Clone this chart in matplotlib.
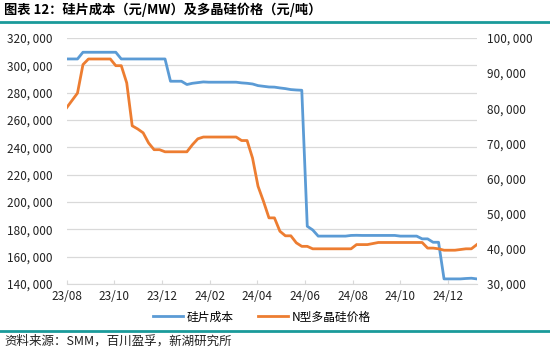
import numpy as np
import pandas as pd
import matplotlib
matplotlib.use("Agg")
import matplotlib.pyplot as plt
import matplotlib.dates as mdates
from matplotlib.ticker import FuncFormatter, MultipleLocator
from matplotlib.lines import Line2D

plt.rcParams['font.family'] = ['Noto Sans CJK SC', 'DejaVu Sans']

# ---- data (weekly) ----
start_date = "2023-08-01"
n_weeks = 76

# 硅片成本 (元/MW), left axis
wafer_cost = [
    304600, 304600, 304600, 309500, 309500, 309500, 309500, 309500, 309500, 309500,
    304600, 304600, 304600, 304600, 304600, 304600, 304600, 304600, 304600, 288300,
    288300, 288300, 285900, 286800, 287300, 287800, 287600, 287600, 287600, 287600,
    287600, 287600, 287100, 286800, 286300, 285100, 284600, 284100, 284000, 283400,
    282900, 282200, 281900, 281700, 182200, 179500, 175000, 175000, 175000, 175000,
    175000, 175000, 175500, 175600, 175500, 175500, 175500, 175500, 175500, 175500,
    175500, 175000, 175000, 175000, 175000, 173000, 173000, 170500, 170500, 143700,
    143700, 143700, 143700, 144000, 144200, 143700,
]

# N型多晶硅价格 (元/吨), right axis
poly_price = [
    80100, 82200, 84300, 92400, 94000, 94000, 94000, 94000, 94000, 92100,
    92100, 87200, 75000, 74100, 73000, 70100, 68200, 68200, 67600, 67600,
    67600, 67600, 67600, 69600, 71300, 71800, 71800, 71800, 71800, 71800,
    71800, 71800, 70800, 70800, 65800, 57800, 53500, 48800, 48800, 45000,
    43700, 43700, 41700, 40700, 40700, 40000, 40000, 40000, 40000, 40000,
    40000, 40000, 40000, 41200, 41200, 41200, 41500, 41800, 41800, 41800,
    41800, 41800, 41800, 41800, 41800, 41800, 40200, 40200, 40000, 39600,
    39600, 39600, 39800, 40000, 40000, 41200,
]

label_wafer = "硅片成本"
label_poly = "N型多晶硅价格"
title = "图表 12：硅片成本（元/MW）及多晶硅价格（元/吨）"
source = "资料来源：SMM，百川盈孚，新湖研究所"

dates = pd.date_range(start_date, periods=n_weeks, freq="7D")

# ---- figure ----
fig = plt.figure(figsize=(5.5, 3.51), dpi=100)
ax = fig.add_axes([0.121, 0.191, 0.746, 0.701])
ax2 = ax.twinx()

blue = "#5B9BD5"
orange = "#ED7D31"
teal = "#1A9A9A"
grid_c = "#D9D9D9"

ax.plot(dates, wafer_cost, color=blue, lw=2.0, zorder=3)
ax2.plot(dates, poly_price, color=orange, lw=2.0, zorder=3)

ax.set_ylim(140000, 320000)
ax.yaxis.set_major_locator(MultipleLocator(20000))
ax2.set_ylim(30000, 100000)
ax2.yaxis.set_major_locator(MultipleLocator(10000))

fmt = FuncFormatter(lambda v, p: f"{int(v):,}".replace(",", ", "))
ax.yaxis.set_major_formatter(fmt)
ax2.yaxis.set_major_formatter(fmt)

ax.set_xlim(pd.Timestamp("2023-08-01"), dates[-1])
ax.xaxis.set_major_locator(mdates.MonthLocator(bymonth=[2, 4, 6, 8, 10, 12]))
ax.xaxis.set_major_formatter(mdates.DateFormatter("%y/%m"))

ax.grid(axis="y", color=grid_c, lw=0.9)
ax.set_axisbelow(True)
for a in (ax, ax2):
    for s in ("top", "left", "right"):
        a.spines[s].set_visible(False)
    a.spines["bottom"].set_color(grid_c)
    a.tick_params(axis="y", length=0, labelsize=8.5, colors="#222222")
ax.tick_params(axis="x", direction="in", length=3, color=grid_c, labelsize=8.5,
               labelcolor="#222222", pad=4)
ax.tick_params(axis="y", pad=10)
ax2.tick_params(axis="y", pad=7)
ax2.spines["bottom"].set_visible(False)

handles = [Line2D([], [], color=blue, lw=2.0), Line2D([], [], color=orange, lw=2.0)]
fig.legend(handles, [label_wafer, label_poly], loc="center", bbox_to_anchor=(0.476, 0.097),
           ncol=2, frameon=False, fontsize=8.5, handlelength=2.6, columnspacing=2.0,
           handletextpad=0.3)

fig.text(0.008, 0.972, title, fontsize=9.5, fontweight="bold", va="center", ha="left")
fig.add_artist(Line2D([0, 1], [0.937, 0.937], color=teal, lw=2.0, transform=fig.transFigure))
fig.add_artist(Line2D([0, 1], [0.057, 0.057], color=teal, lw=2.0, transform=fig.transFigure))
fig.text(0.008, 0.027, source, fontsize=9, va="center", ha="left", color="#222222")

fig.savefig("out.png", dpi=100)
